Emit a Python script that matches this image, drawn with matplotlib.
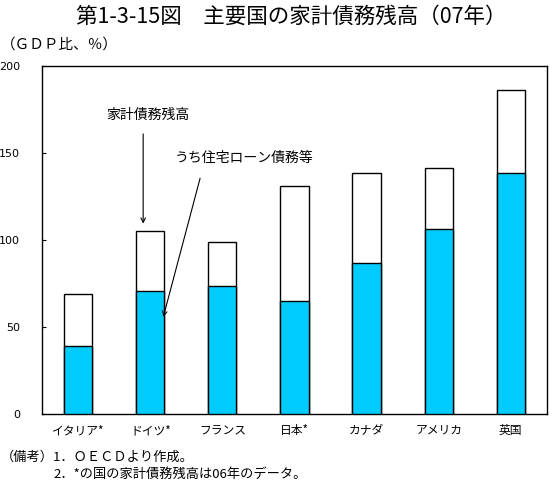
import matplotlib
matplotlib.use("Agg")
import matplotlib.pyplot as plt

plt.rcParams['font.family'] = ['Noto Sans CJK JP', 'DejaVu Sans']

categories = ["イタリア*", "ドイツ*", "フランス", "日本*", "カナダ", "アメリカ", "英国"]
total_debt = [69.0, 105.2, 98.9, 131.0, 138.5, 141.4, 186.2]
housing_debt = [39.3, 70.9, 73.6, 65.1, 86.8, 106.3, 138.5]
yticks = [0, 50, 100, 150, 200]

fig = plt.figure(figsize=(5.55, 4.83), dpi=100)
ax = fig.add_axes([0.0762, 0.1422, 0.9088, 0.7212])

x = list(range(len(categories)))
ax.bar(x, total_debt, width=0.39, color="white", edgecolor="black", linewidth=1.0, zorder=2)
ax.bar(x, housing_debt, width=0.39, color="#00CCFF", edgecolor="black", linewidth=1.0, zorder=3)

ax.set_xlim(-0.5, len(categories) - 0.5)
ax.set_ylim(0, 200)
ax.set_yticks(yticks)
ax.set_yticklabels([str(v) for v in yticks], fontsize=8, family=['DejaVu Sans'])
ax.set_xticks(x)
ax.set_xticklabels(categories, fontsize=8.5)
ax.tick_params(axis='y', direction='in', length=3, width=0.8, pad=16)
ax.tick_params(axis='x', length=0, pad=7)
for s in ax.spines.values():
    s.set_linewidth(1.0)

ax.annotate("", xy=(0.90, 109.5), xytext=(0.90, 161),
            arrowprops=dict(arrowstyle="->", color="black", lw=0.8, shrinkA=0, shrinkB=0,
                            mutation_scale=8), zorder=5)
ax.text(0.97, 172, "家計債務残高", fontsize=10, ha="center", va="center")

ax.annotate("", xy=(1.18, 56), xytext=(1.69, 135.5),
            arrowprops=dict(arrowstyle="->", color="black", lw=0.8, shrinkA=0, shrinkB=0,
                            mutation_scale=8), zorder=5)
ax.text(1.34, 147, "うち住宅ローン債務等", fontsize=10, ha="left", va="center")

fig.text(0.525, 0.965, "第1-3-15図　主要国の家計債務残高（07年）", fontsize=15.5, ha="center", va="center")
fig.text(0.002, 0.907, "（ＧＤＰ比、％）", fontsize=10.5, ha="left", va="center")
fig.text(0.002, 0.053, "（備考）1．ＯＥＣＤより作成。", fontsize=9.5, ha="left", va="center")
fig.text(0.096, 0.018, "2．*の国の家計債務残高は06年のデータ。", fontsize=9.5, ha="left", va="center")

fig.savefig("out.png", dpi=100)
